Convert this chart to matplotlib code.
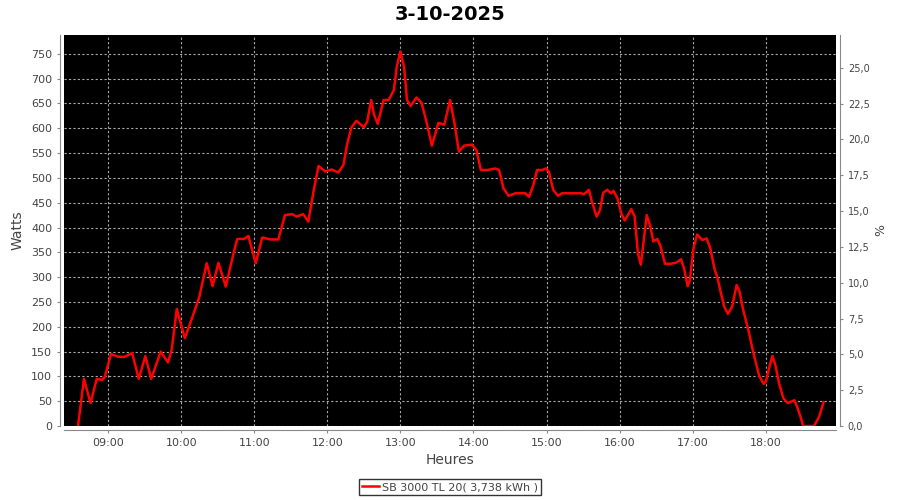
import matplotlib
matplotlib.use("Agg")
import matplotlib.pyplot as plt
from matplotlib.ticker import FuncFormatter

# power readings, time in decimal hours
hours = [8.589, 8.67, 8.76, 8.845, 8.92, 8.955, 9.04, 9.13, 9.22, 9.33, 9.42, 9.51,
         9.59, 9.72, 9.82, 9.87, 9.94, 10.05, 10.155, 10.25, 10.35, 10.43, 10.51, 10.61,
         10.68, 10.75, 10.77, 10.86, 10.92, 11.02, 11.11, 11.22, 11.33, 11.42, 11.52,
         11.58, 11.67, 11.74, 11.81, 11.88, 11.97, 12.06, 12.15, 12.22, 12.27, 12.33,
         12.40, 12.50, 12.545, 12.60, 12.64, 12.69, 12.77, 12.84, 12.91, 12.95, 13.0,
         13.05, 13.09, 13.14, 13.22, 13.29, 13.35, 13.43, 13.48, 13.52, 13.60, 13.68,
         13.74, 13.80, 13.87, 13.98, 14.04, 14.10, 14.19, 14.30, 14.35, 14.41, 14.48,
         14.575, 14.71, 14.76, 14.82, 14.87, 14.94, 14.99, 15.03, 15.09, 15.155, 15.21,
         15.47, 15.51, 15.58, 15.62, 15.685, 15.73, 15.775, 15.83, 15.88, 15.915, 15.97,
         16.02, 16.07, 16.10, 16.16, 16.205, 16.25, 16.29, 16.37, 16.42, 16.46, 16.515,
         16.56, 16.62, 16.70, 16.77, 16.84, 16.88, 16.93, 16.96, 17.01, 17.06, 17.13,
         17.19, 17.24, 17.30, 17.34, 17.38, 17.43, 17.48, 17.54, 17.60, 17.64, 17.69,
         17.76, 17.83, 17.91, 17.97, 18.00, 18.05, 18.09, 18.135, 18.18, 18.24, 18.30,
         18.39, 18.43, 18.48, 18.51, 18.66, 18.73, 18.79]
watts = [0, 95, 46, 95, 93, 99, 145, 140, 139, 147, 95, 141,
         95, 150, 128, 153, 236, 177, 220, 261, 328, 282, 329, 281,
         325, 368, 377, 377, 383, 328, 380, 376, 376, 425, 427,
         422, 427, 412, 472, 524, 513, 517, 511, 526, 567, 602,
         615, 602, 613, 657, 627, 609, 657, 657, 677, 724, 755,
         724, 657, 645, 662, 651, 617, 565, 590, 611, 607, 657,
         610, 553, 565, 567, 556, 516, 516, 519, 516, 479, 464,
         469, 469, 462, 486, 516, 516, 519, 513, 476, 464, 469,
         469, 467, 476, 452, 422, 435, 470, 476, 469, 474, 459,
         429, 414, 422, 437, 422, 348, 325, 425, 402, 372, 377,
         362, 327, 327, 329, 336, 318, 282, 294, 358, 386, 375,
         378, 358, 315, 298, 271, 241, 226, 241, 284, 271, 234,
         194, 147, 101, 85, 89, 120, 141, 120, 86, 56, 46,
         52, 38, 16, 0, 0, 19, 48]

hour_ticks = list(range(9, 19))
hour_labels = [f"{h:02d}:00" for h in hour_ticks]
watt_ticks = list(range(0, 751, 50))
pct_ticks = [0, 2.5, 5, 7.5, 10, 12.5, 15, 17.5, 20, 22.5, 25]

series_name = "SB 3000 TL 20( 3,738 kWh )"
title = "3-10-2025"

w_max = 788
w_per_pct = 28.87
txt = "#444444"

fig = plt.figure(figsize=(9, 5), dpi=100)
ax = fig.add_axes([64 / 900, 74 / 500, 772 / 900, 391 / 500])
ax.set_facecolor("black")

line, = ax.plot(hours, watts, color="red", lw=1.8, label=series_name)

ax.set_xlim(8.397, 18.96)
ax.set_ylim(0, w_max)
ax.set_xticks(hour_ticks)
ax.set_xticklabels(hour_labels)
ax.set_yticks(watt_ticks)
ax.grid(True, color="#a8a8a8", ls=(0, (2, 2)), lw=0.8)

for side in ["top", "right"]:
    ax.spines[side].set_visible(False)
for side in ["left", "bottom"]:
    ax.spines[side].set_position(("outward", 3))
    ax.spines[side].set_color("#888888")

ax.tick_params(colors="#888888", labelcolor=txt, labelsize=8, length=2)
ax.set_ylabel("Watts", fontsize=10, color=txt, labelpad=5)
ax.set_xlabel("Heures", fontsize=10, color=txt, labelpad=4)

# right axis in percent
ax2 = ax.twinx()
ax2.set_ylim(0, w_max / w_per_pct)
ax2.set_yticks(pct_ticks)
ax2.yaxis.set_major_formatter(FuncFormatter(lambda v, p: f"{v:.1f}".replace(".", ",")))
for side in ["top", "left", "bottom"]:
    ax2.spines[side].set_visible(False)
ax2.spines["right"].set_position(("outward", 3))
ax2.spines["right"].set_color("#888888")
ax2.tick_params(colors="#888888", labelcolor=txt, labelsize=7, length=2)
ax2.set_ylabel("%", fontsize=9, color=txt, labelpad=3)

fig.text(0.5, 0.972, title, ha="center", va="center", fontsize=14, fontweight="bold")

leg = fig.legend(handles=[line], loc="center", bbox_to_anchor=(0.5, 0.026),
                 frameon=True, fancybox=False, fontsize=8, handlelength=1.5,
                 borderpad=0.3, handletextpad=0.3, borderaxespad=0)
leg.get_frame().set_edgecolor("black")
leg.get_frame().set_linewidth(1)
for t in leg.get_texts():
    t.set_color(txt)

fig.savefig("out.png", dpi=100)
